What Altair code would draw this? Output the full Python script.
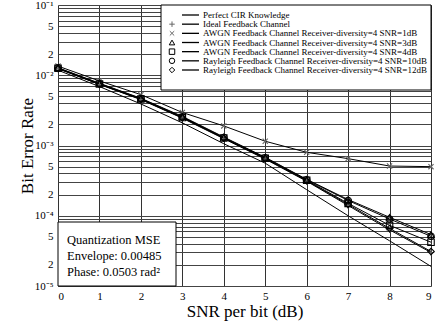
import altair as alt
import pandas as pd

# ---------------- data ----------------
series_names = [
    "Perfect CIR Knowledge",
    "Ideal Feedback Channel",
    "AWGN Feedback Channel Receiver-diversity=4 SNR=1dB",
    "AWGN Feedback Channel Receiver-diversity=4 SNR=3dB",
    "AWGN Feedback Channel Receiver-diversity=4 SNR=4dB",
    "Rayleigh Feedback Channel Receiver-diversity=4 SNR=10dB",
    "Rayleigh Feedback Channel Receiver-diversity=4 SNR=12dB",
]
snr_db = [0, 1, 2, 3, 4, 5, 6, 7, 8, 9]

ber_perfect = [1.18e-2, 6.9e-3, 3.9e-3, 2.1e-3, 1.06e-3, 5.6e-4, 2.35e-4, 1.0e-4, 4.4e-5, 1.9e-5]
ber_ideal = [1.24e-2, 7.4e-3, 4.5e-3, 2.45e-3, 1.25e-3, 6.4e-4, 3.1e-4, 1.4e-4, 6.3e-5, 3.0e-5]
ber_awgn1 = [1.35e-2, 8.3e-3, 5.3e-3, 2.95e-3, 1.9e-3, 1.15e-3, 8.0e-4, 6.5e-4, 5.1e-4, 5.0e-4]
ber_awgn3 = [1.28e-2, 7.7e-3, 4.7e-3, 2.6e-3, 1.32e-3, 6.8e-4, 3.3e-4, 1.7e-4, 9.5e-5, 5.4e-5]
ber_awgn4 = [1.26e-2, 7.5e-3, 4.6e-3, 2.5e-3, 1.28e-3, 6.6e-4, 3.2e-4, 1.5e-4, 7.3e-5, 4.2e-5]
ber_ray10 = [1.27e-2, 7.6e-3, 4.65e-3, 2.55e-3, 1.3e-3, 6.7e-4, 3.25e-4, 1.65e-4, 9.0e-5, 5.1e-5]
ber_ray12 = [1.25e-2, 7.45e-3, 4.55e-3, 2.48e-3, 1.27e-3, 6.5e-4, 3.15e-4, 1.45e-4, 6.6e-5, 3.1e-5]

all_ber = [ber_perfect, ber_ideal, ber_awgn1, ber_awgn3, ber_awgn4, ber_ray10, ber_ray12]

marker_shapes = [
    "",  # no marker
    "M-1,0L1,0M0,-1L0,1",
    "M-0.8,-0.8L0.8,0.8M-0.8,0.8L0.8,-0.8",
    "triangle-up",
    "square",
    "circle",
    "diamond",
]
marker_colors = ["black", "#666", "#666", "black", "black", "black", "black"]

y_tick_values = [m * 10.0 ** e for e in range(-5, -1) for m in range(1, 10)] + [1e-1]
y_label_values = [1e-5, 2e-5, 5e-5, 1e-4, 2e-4, 5e-4, 1e-3, 2e-3, 5e-3, 1e-2, 2e-2, 5e-2, 1e-1]
y_label_texts = ["10⁻⁵", "2", "5", "10⁻⁴", "2", "5", "10⁻³", "2", "5", "10⁻²", "2", "5", "10⁻¹"]

note_lines = ["Quantization MSE", "Envelope: 0.00485", "Phase: 0.0503 rad²"]

# ---------------- tables ----------------
rows = []
for name, vals in zip(series_names, all_ber):
    for s, b in zip(snr_db, vals):
        rows.append({"series": name, "snr": s, "ber": b})
df = pd.DataFrame(rows)
df_pts = df[df["series"] != series_names[0]]

leg = pd.DataFrame({"label": series_names, "row": list(range(len(series_names))),
                    "shape": series_names})
leg_pts = leg[leg["label"] != series_names[0]]
note_df = pd.DataFrame({"txt": note_lines, "row": list(range(len(note_lines)))})

expr = "''"
for v, t in reversed(list(zip(y_label_values, y_label_texts))):
    expr = f"(abs(datum.value/{v!r} - 1) < 1e-6 ? '{t}' : {expr})"

FONT = "Liberation Serif"
W, H = 373, 281

x_enc = alt.X("snr:Q", scale=alt.Scale(domain=[0, 9], nice=False),
              axis=alt.Axis(values=snr_db, title="SNR per bit (dB)", grid=True,
                            gridColor="#333", gridWidth=1, gridOpacity=1,
                            ticks=False, labelPadding=4, labelFontSize=11,
                            titleFontSize=17, titleFontWeight="normal", titlePadding=2,
                            labelFont=FONT, titleFont=FONT, domain=False, format="d"))
y_enc = alt.Y("ber:Q", scale=alt.Scale(type="log", domain=[1e-5, 1e-1], nice=False),
              axis=alt.Axis(values=y_tick_values, labelExpr=expr, title="Bit Error Rate",
                            grid=True, gridColor="#444", gridWidth=1, gridOpacity=1,
                            ticks=False, labelPadding=5, labelFontSize=11,
                            labelOverlap=False, labelFont=FONT, titleFont=FONT,
                            titleFontSize=17, titleFontWeight="normal",
                            titleX=-31, titleY=H / 2, titleAngle=-90,
                            titleAlign="center", titleBaseline="middle", domain=False))

shape_scale = alt.Scale(domain=series_names, range=marker_shapes)
color_scale = alt.Scale(domain=series_names, range=marker_colors)

lines = alt.Chart(df).mark_line(color="black", strokeWidth=1).encode(
    x=x_enc, y=y_enc, detail="series:N")

points = alt.Chart(df_pts).mark_point(filled=False, size=42,
                                       strokeWidth=1.1, opacity=1).encode(
    x="snr:Q", y="ber:Q",
    shape=alt.Shape("series:N", scale=shape_scale, legend=None),
    color=alt.Color("series:N", scale=color_scale, legend=None))

data_layer = alt.layer(lines, points)

box_df = pd.DataFrame({"k": [0]})
legend_box = alt.Chart(box_df).mark_rect(fill="white", stroke="black", strokeWidth=1).encode(
    x=alt.value(103), x2=alt.value(W), y=alt.value(0), y2=alt.value(85))
note_box = alt.Chart(box_df).mark_rect(fill="white", stroke="black", strokeWidth=1).encode(
    x=alt.value(0), x2=alt.value(118), y=alt.value(217), y2=alt.value(H))

leg_y = alt.Y("row:Q", scale=alt.Scale(domain=[0, 6], range=[10, 65]), axis=None)
leg_rules = alt.Chart(leg).mark_rule(color="black", strokeWidth=1.3).encode(
    x=alt.value(124), x2=alt.value(141), y=leg_y)
leg_marks = alt.Chart(leg_pts).mark_point(filled=False, size=30,
                                           strokeWidth=1, opacity=1).encode(
    x=alt.value(114), y=leg_y,
    shape=alt.Shape("shape:N", scale=shape_scale, legend=None),
    color=alt.Color("shape:N", scale=color_scale, legend=None))
leg_text = alt.Chart(leg).mark_text(align="left", baseline="middle", font=FONT,
                                     fontSize=9, color="black").encode(
    x=alt.value(145), y=leg_y, text="label:N")
legend_layer = alt.layer(leg_rules, leg_marks, leg_text)

note_y = alt.Y("row:Q", scale=alt.Scale(domain=[0, 2], range=[235, 267]), axis=None)
note_text = alt.Chart(note_df).mark_text(align="left", baseline="middle", font=FONT,
                                          fontSize=12.5, color="black").encode(
    x=alt.value(9), y=note_y, text="txt:N")

chart = alt.layer(
    legend_box, note_box, data_layer, legend_layer, note_text
).resolve_scale(y="independent", shape="independent", color="independent").properties(
    width=W, height=H,
    autosize=alt.AutoSizeParams(type="none"),
    padding={"left": 58, "top": 5, "right": 5, "bottom": 42},
).configure_view(stroke="black", strokeWidth=1).configure(background="white")

chart.save("out.html", embed_options={"renderer": "svg", "actions": False})
